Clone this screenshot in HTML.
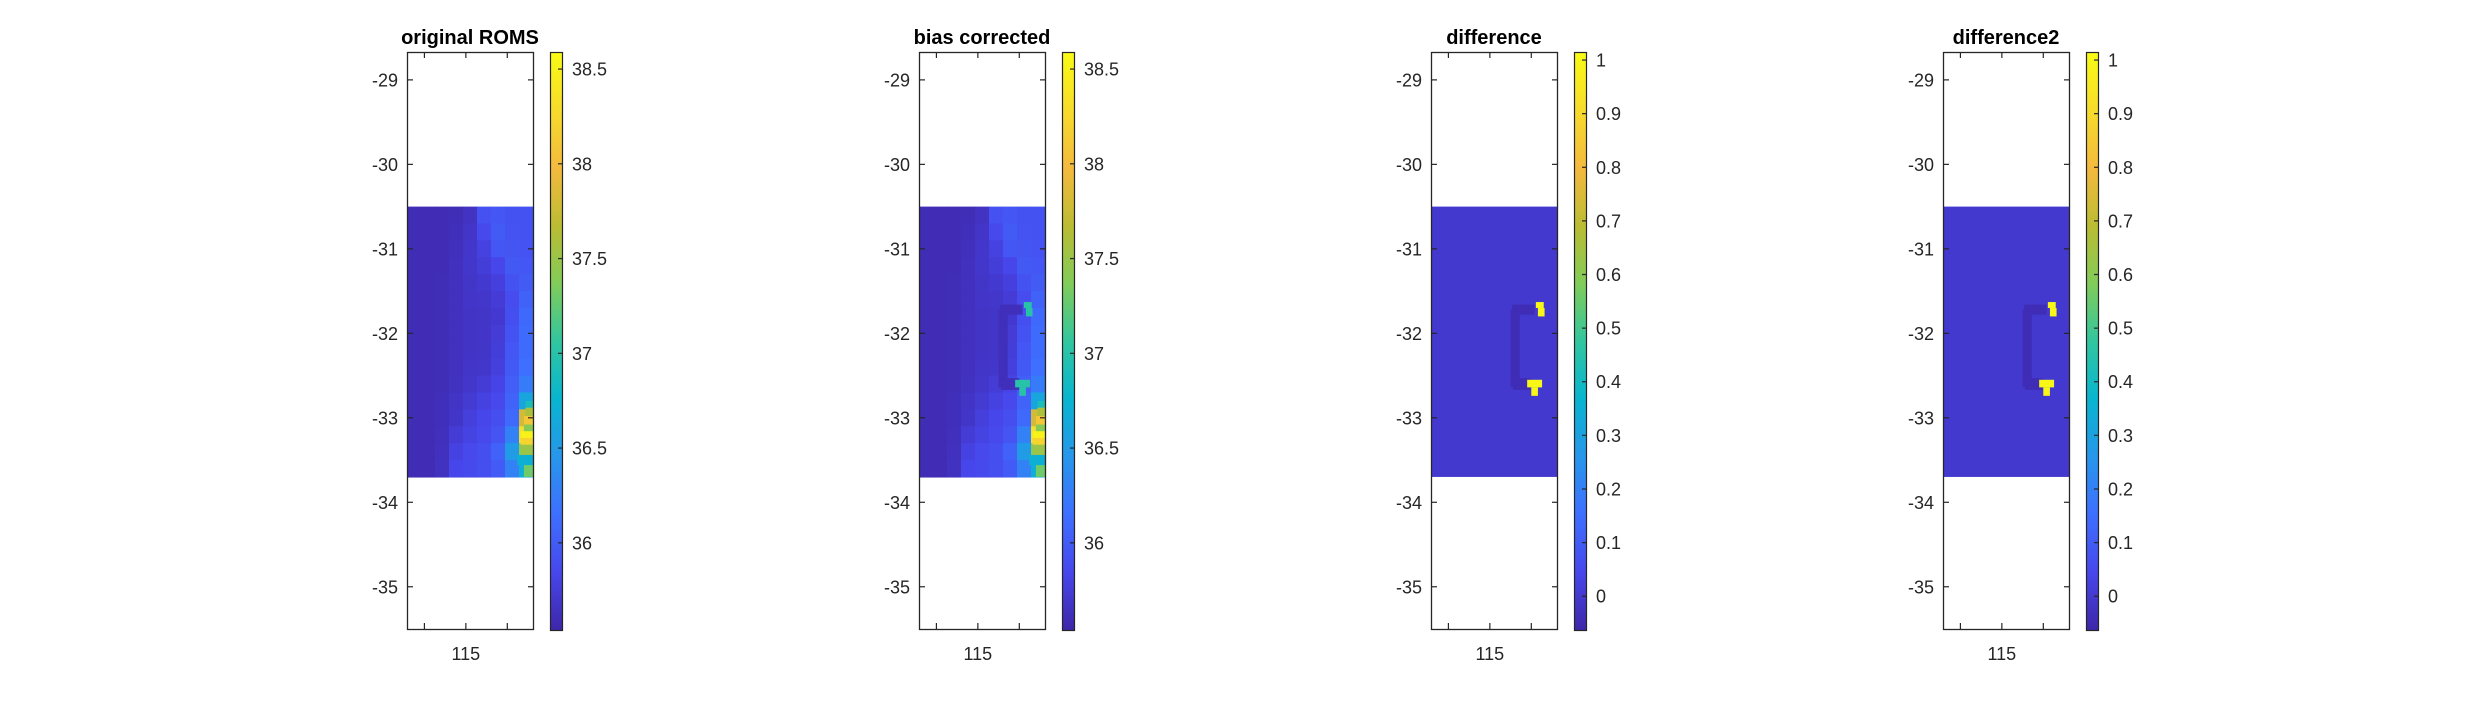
<!DOCTYPE html>
<html><head><meta charset="utf-8"><style>
html,body{margin:0;padding:0;background:#fff;}
svg{display:block;font-family:"Liberation Sans",Arial,sans-serif;}
</style></head><body>
<svg id="fig" width="2480" height="709" viewBox="0 0 2480 709" xmlns="http://www.w3.org/2000/svg"></svg>
<script>
// ---- data ----
const titles = ["original ROMS","bias corrected","difference","difference2"];
const yTicks = [-29,-30,-31,-32,-33,-34,-35];
const xTicks = [114.5,115,115.5];
const xTickLabels = ["","115",""];
const salTicks = [36,36.5,37,37.5,38,38.5];
const salTickLabels = ["36","36.5","37","37.5","38","38.5"];
const diffTicks = [0,0.1,0.2,0.3,0.4,0.5,0.6,0.7,0.8,0.9,1];
const diffTickLabels = ["0","0.1","0.2","0.3","0.4","0.5","0.6","0.7","0.8","0.9","1"];
const salRange = [35.54,38.59];
const diffRange = [-0.063,1.015];
const lonRange = [114.29,115.81];
const latRange = [-28.67,-35.5];
const dataLon = [114.29,115.81];
const dataLat = [-30.5,-33.7];
// original salinity field, rows top(-30.5) to bottom(-33.7), cols west->east
const field = [
[35.60,35.60,35.60,35.61,35.66,35.92,35.96,35.93,35.93],
[35.60,35.60,35.60,35.62,35.68,35.86,36.00,35.94,35.93],
[35.60,35.60,35.60,35.63,35.70,35.80,35.96,35.95,35.94],
[35.60,35.60,35.60,35.64,35.70,35.76,35.84,35.98,35.96],
[35.60,35.60,35.61,35.64,35.69,35.72,35.78,35.93,36.00],
[35.60,35.60,35.61,35.64,35.68,35.70,35.74,35.88,36.05],
[35.60,35.60,35.61,35.64,35.67,35.69,35.72,35.90,36.10],
[35.60,35.60,35.61,35.64,35.67,35.68,35.74,35.93,36.12],
[35.60,35.60,35.61,35.64,35.67,35.69,35.76,35.96,36.12],
[35.60,35.60,35.61,35.64,35.68,35.70,35.78,35.98,36.15],
[35.60,35.60,35.61,35.65,35.70,35.74,35.82,36.02,36.25],
[35.60,35.60,35.62,35.67,35.73,35.80,35.86,36.06,36.60],
[35.60,35.60,35.62,35.69,35.77,35.84,35.90,36.10,37.80],
[35.60,35.60,35.63,35.74,35.81,35.86,35.95,36.30,38.30],
[35.60,35.60,35.64,35.80,35.86,35.90,36.05,36.50,37.40],
[35.60,35.60,35.65,35.84,35.87,35.90,36.00,36.30,36.70]];
// fine hotspot cells along coast: [lon0, lon1, lat0, lat1, value]
const hotspots = [
[115.72,115.81,-32.80,-32.88,36.9],[115.72,115.81,-32.88,-32.98,37.6],
[115.70,115.81,-32.98,-33.08,38.1],[115.70,115.81,-33.08,-33.16,37.4],
[115.66,115.81,-33.16,-33.24,38.5],[115.66,115.81,-33.24,-33.32,38.2],
[115.66,115.81,-33.32,-33.44,37.5],[115.62,115.81,-33.44,-33.56,36.7],
[115.70,115.81,-33.56,-33.70,37.3]];
// bias-correction patches: [lon0, lon1, lat0, lat1]
const patches = [[115.555,115.65,-31.63,-31.70],[115.58,115.66,-31.70,-31.80],[115.45,115.63,-32.55,-32.64],[115.50,115.58,-32.64,-32.74]];
const arc = [[115.25,115.36,-31.72,-32.64],[115.27,115.54,-31.66,-31.78],[115.28,115.50,-32.53,-32.67]];
const patchSal = 37.0, arcSal = 35.62;
const diffBg = 0, diffPatch = 1, diffArc = -0.04;

// ---- layout ----
const svg = document.getElementById('fig');
const NS = "http://www.w3.org/2000/svg";
const panelX = [407,919,1431,1943];
const axW = 126, axTop = 52, axBot = 629, cbOff = 143, cbW = 12, cbTop = 52, cbBot = 630;
const parula = [[62,38,168],[71,71,235],[62,111,255],[39,150,235],[8,181,208],[49,198,159],[129,204,89],[187,188,51],[244,186,61],[246,220,44],[249,251,20]];
function cmap(t){t=Math.max(0,Math.min(1,t));const s=t*10,i=Math.min(9,Math.floor(s)),f=s-i;const a=parula[i],b=parula[i+1];return `rgb(${Math.round(a[0]+(b[0]-a[0])*f)},${Math.round(a[1]+(b[1]-a[1])*f)},${Math.round(a[2]+(b[2]-a[2])*f)})`;}
function mk(tag,attrs,parent){const e=document.createElementNS(NS,tag);for(const k in attrs)e.setAttribute(k,attrs[k]);(parent||svg).appendChild(e);return e;}

titles.forEach((title,p)=>{
  const x0 = panelX[p];
  const g = mk('g',{});
  
  
  const X = lon => x0 + (lon-lonRange[0])/(lonRange[1]-lonRange[0])*axW;
  const Y = lat => axTop + (lat-latRange[0])/(latRange[1]-latRange[0])*(axBot-axTop);
  const isDiff = p>=2;
  const rng = isDiff?diffRange:salRange;
  const C = v => cmap((v-rng[0])/(rng[1]-rng[0]));
  const rects = (list,val) => list.forEach(r=>{
    const e = mk('rect',{x:X(r[0]),y:Y(r[2]),width:X(r[1])-X(r[0]),height:Y(r[3])-Y(r[2]),fill:C(r.length>4?r[4]:val)},g);
    
    
  });
  const nr = field.length, nc = field[0].length;
  const dLon = (dataLon[1]-dataLon[0])/nc, dLat = (dataLat[1]-dataLat[0])/nr;
  if(!isDiff){
    for(let r=0;r<nr;r++)for(let c=0;c<nc;c++){
      const la0 = dataLat[0]+r*dLat, lo0 = dataLon[0]+c*dLon;
      const e = mk('rect',{x:X(lo0),y:Y(la0),width:X(lo0+dLon)-X(lo0)+0.6,height:Y(la0+dLat)-Y(la0)+0.6,fill:C(field[r][c])},g);
      
      
    }
    rects(hotspots);
    if(p===1){ rects(arc,arcSal); rects(patches,patchSal); }
  } else {
    const e = mk('rect',{x:X(dataLon[0]),y:Y(dataLat[0]),width:X(dataLon[1])-X(dataLon[0]),height:Y(dataLat[1])-Y(dataLat[0]),fill:C(diffBg)},g);
    
    
    rects(arc,diffArc); rects(patches,diffPatch);
  }
  const box = mk('rect',{x:x0+0.5,y:axTop+0.5,width:axW,height:axBot-axTop,fill:'none',stroke:'#262626','stroke-width':1.3},g);
  
  
  yTicks.forEach(v=>{
    const y=Y(v);
    mk('line',{x1:x0,x2:x0+6,y1:y,y2:y,stroke:'#262626','stroke-width':1.2},g);
    mk('line',{x1:x0+axW-5,x2:x0+axW+1,y1:y,y2:y,stroke:'#262626','stroke-width':1.2},g);
    const t = mk('text',{x:x0-9,y:y+6.5,'text-anchor':'end','font-size':18,fill:'#262626'},g);
    t.textContent = String(v);
    
    
  });
  xTicks.forEach((v,i)=>{
    const x=X(v);
    mk('line',{x1:x,x2:x,y1:axBot,y2:axBot-6,stroke:'#262626','stroke-width':1.2},g);
    mk('line',{x1:x,x2:x,y1:axTop,y2:axTop+6,stroke:'#262626','stroke-width':1.2},g);
    if(xTickLabels[i]){
      const t = mk('text',{x:x,y:axBot+31,'text-anchor':'middle','font-size':18,fill:'#262626'},g);
      t.textContent = xTickLabels[i];
      
      
    }
  });
  const tt = mk('text',{x:x0+axW/2,y:44,'text-anchor':'middle','font-size':20,'font-weight':'bold',fill:'#000'},g);
  tt.textContent = title;
  
  
  const cx = x0+cbOff;
  const grad = mk('linearGradient',{id:'cg'+p,x1:0,y1:1,x2:0,y2:0},g);
  for(let i=0;i<=10;i++) mk('stop',{offset:i/10,'stop-color':cmap(i/10)},grad);
  const cb = mk('rect',{x:cx+0.5,y:cbTop+0.5,width:cbW,height:cbBot-cbTop,fill:`url(#cg${p})`,stroke:'#262626','stroke-width':1.2},g);
  
  
  const ticks = isDiff?diffTicks:salTicks, labs = isDiff?diffTickLabels:salTickLabels;
  const CY = v => cbBot - (v-rng[0])/(rng[1]-rng[0])*(cbBot-cbTop);
  ticks.forEach((v,i)=>{
    const y=CY(v);
    mk('line',{x1:cx+cbW-4,x2:cx+cbW+1,y1:y,y2:y,stroke:'#262626','stroke-width':1.2},g);
    const t = mk('text',{x:cx+22,y:y+6.5,'font-size':18,fill:'#262626'},g);
    t.textContent = labs[i];
    
    
  });
});
</script>
</body></html>
